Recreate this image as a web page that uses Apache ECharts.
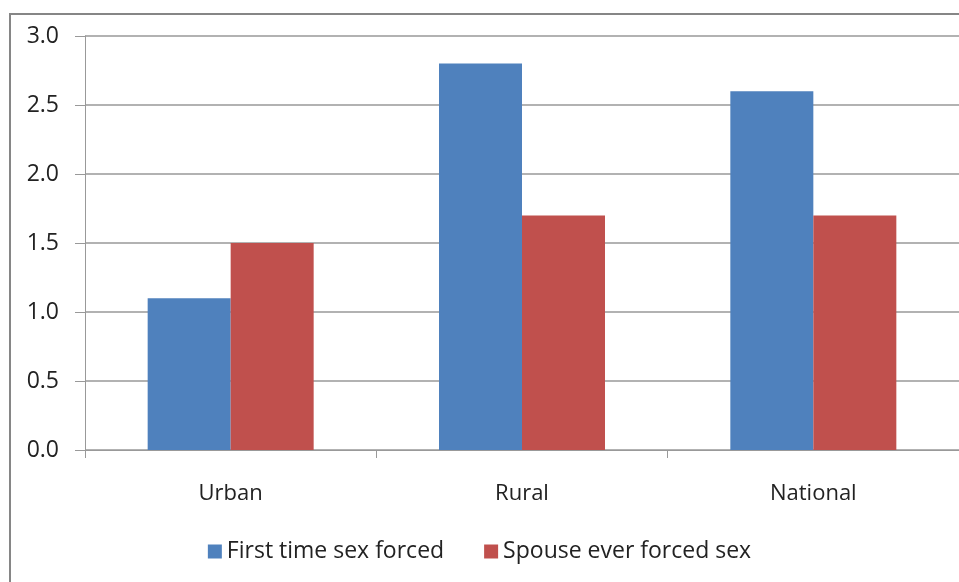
<!DOCTYPE html>
<html>
<head>
<meta charset="utf-8">
<script src="https://cdn.jsdelivr.net/npm/echarts@6/dist/echarts.min.js"></script>
<style>
  html, body { margin: 0; padding: 0; background: #fff; }
  #chart { width: 959px; height: 582px; }
</style>
</head>
<body>
<div id="chart"></div>
<script>
// Chart data
const categories = ['Urban', 'Rural', 'National'];
const firstTimeForced = [1.1, 2.8, 2.6];
const spouseForced = [1.5, 1.7, 1.7];
const seriesNames = ['First time sex forced', 'Spouse ever forced sex'];

const fontFamily = '"Open Sans", "DejaVu Sans", sans-serif';

const chart = echarts.init(document.getElementById('chart'));

const option = {
    animation: false,
    textStyle: { fontFamily: fontFamily },
    graphic: [{
        type: 'rect',
        shape: { x: 10, y: 14, width: 1000, height: 700 },
        style: { fill: 'none', stroke: '#868686', lineWidth: 2 },
        z: -1
    }],
    grid: { left: 85, right: -7, top: 36, bottom: 132 },
    legend: {
        bottom: 14,
        left: 'center',
        itemWidth: 14,
        itemHeight: 14,
        itemGap: 40,
        icon: 'rect',
        textStyle: { fontSize: 23, color: '#222', fontFamily: fontFamily },
        data: seriesNames
    },
    xAxis: {
        type: 'category',
        data: categories,
        axisLine: { lineStyle: { color: '#999', width: 1 } },
        axisTick: { show: true, length: 8, lineStyle: { color: '#999' } },
        axisLabel: { fontSize: 22, color: '#222', margin: 33 }
    },
    yAxis: {
        type: 'value',
        min: 0,
        max: 3,
        interval: 0.5,
        axisLine: { show: true, lineStyle: { color: '#999', width: 1 } },
        axisTick: { show: true, inside: false, length: 10, lineStyle: { color: '#999' } },
        splitLine: { lineStyle: { color: '#999', width: 1.5 } },
        axisLabel: {
            fontSize: 23, color: '#222', margin: 26,
            formatter: v => v.toFixed(1)
        }
    },
    series: [
        {
            name: seriesNames[0],
            type: 'bar',
            data: firstTimeForced,
            barWidth: 83,
            barGap: '0%',
            itemStyle: { color: '#4F81BD' }
        },
        {
            name: seriesNames[1],
            type: 'bar',
            data: spouseForced,
            barWidth: 83,
            barGap: '0%',
            itemStyle: { color: '#C0504D' }
        }
    ]
};

chart.setOption(option);
</script>
</body>
</html>
